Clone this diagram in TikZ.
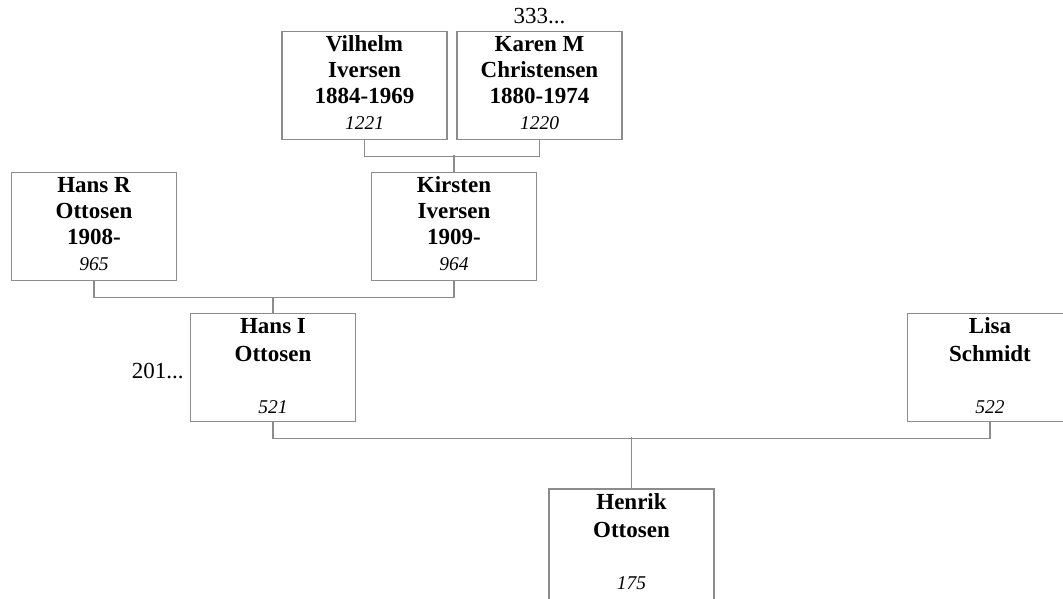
\documentclass[tikz,border=0pt]{standalone}
\usepackage{fontspec}
\setmainfont{Liberation Serif}
\usetikzlibrary{positioning,calc}
\definecolor{boxgray}{HTML}{8C8C8C}
\definecolor{linegray}{HTML}{8C8C8C}
\newcommand{\namefont}{\fontsize{23}{26}\selectfont\bfseries}
\newcommand{\refno}[1]{{\fontsize{19.5}{26}\selectfont\mdseries\itshape #1}}

\begin{document}
\begin{tikzpicture}[
  x=1pt,y=-1pt,
  person/.style={draw=boxgray,line width=1.3pt,minimum width=165pt,inner sep=0pt,align=center,font=\namefont,text height=98pt,text depth=10pt},
  short/.style={person,text height=100pt,text depth=8pt},
  link/.style={draw=linegray,line width=1.3pt},
  more/.style={font=\fontsize{23}{26}\selectfont,inner sep=0pt}
]
  \useasboundingbox (0,0) rectangle (1063,598);

  % grandparents
  \node[person] (vilhelm) at (364.5,85.5) {Vilhelm\\Iversen\\1884-1969\\\refno{1221}};
  \node[person] (karen) at (539.5,85.5) {Karen M\\Christensen\\1880-1974\\\refno{1220}};
  \node[more,anchor=base] (karenmore) at ([yshift=7pt]karen.north) {333...};

  % parents
  \node[person] (hansr) at (94,226.5) {Hans R\\Ottosen\\1908-\\\refno{965}};
  \node[person] (kirsten) at (454,226.5) {Kirsten\\Iversen\\1909-\\\refno{964}};

  % couple
  \node[short] (hansi) at (273,367.5) {Hans I\\[2pt]Ottosen\\[26pt]\refno{521}};
  \node[short] (lisa) at (990,367.5) {Lisa\\[2pt]Schmidt\\[26pt]\refno{522}};
  \node[more,anchor=base east] (hansimore) at ([xshift=-6pt,yshift=-10.5pt]hansi.west) {201...};

  % child
  \node[short,text depth=15pt] (henrik) at (631.5,546.5) {Henrik\\[2pt]Ottosen\\[26pt]\refno{175}};

  \draw[link] (vilhelm.south) -- ++(0,16) -| (karen.south);
  \draw[link] (kirsten.north) -- ++(0,-17);
  \draw[link] (hansr.south) -- ++(0,16) -| (kirsten.south);
  \draw[link] (hansi.north) -- ++(0,-16);
  \draw[link] (hansi.south) -- ++(0,16) -| (lisa.south);
  \draw[link] (henrik.north) -- ++(0,-51);
\end{tikzpicture}
\end{document}
